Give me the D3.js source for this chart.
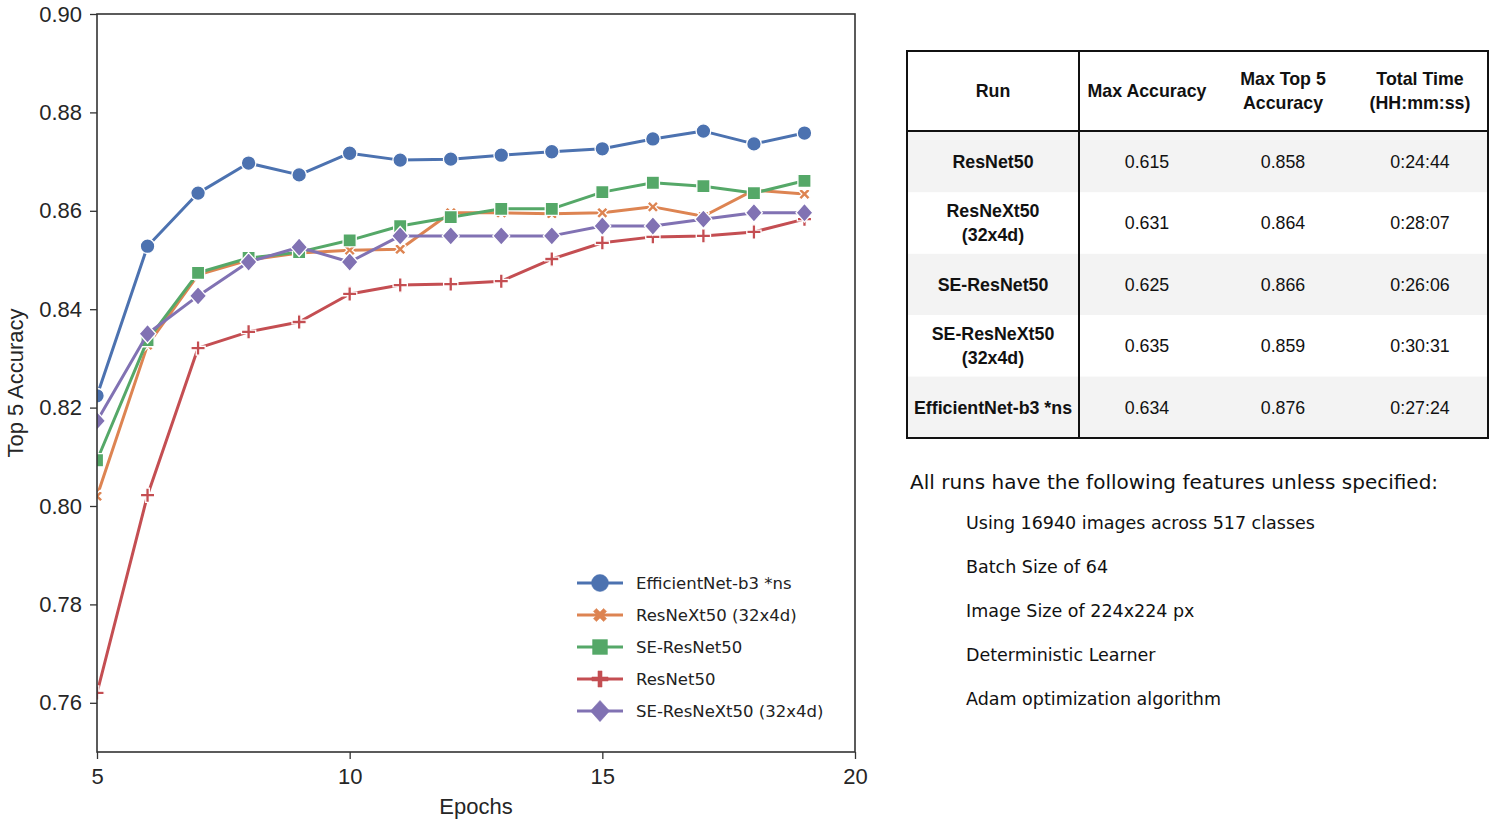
<!DOCTYPE html>
<html><head><meta charset="utf-8">
<script src="https://cdn.jsdelivr.net/npm/d3@7"></script>
<style>
body{margin:0;background:#fff;}
svg{display:block;}
</style></head>
<body>
<svg id="c" width="1500" height="834"></svg>
<script>
const epochs = [5,6,7,8,9,10,11,12,13,14,15,16,17,18,19];
const effnet   = [0.8224,0.8528,0.8636,0.8697,0.8673,0.8717,0.8703,0.8705,0.8713,0.8720,0.8726,0.8746,0.8762,0.8736,0.8758];
const resnext  = [0.8020,0.8327,0.8470,0.8500,0.8514,0.8520,0.8522,0.8596,0.8596,0.8594,0.8596,0.8608,0.8589,0.8642,0.8634];
const seresnet = [0.8093,0.8337,0.8474,0.8504,0.8516,0.8540,0.8569,0.8587,0.8604,0.8604,0.8638,0.8657,0.8650,0.8636,0.8661];
const resnet   = [0.7620,0.8022,0.8321,0.8354,0.8374,0.8431,0.8449,0.8451,0.8457,0.8502,0.8535,0.8547,0.8549,0.8557,0.8583];
const seresnext= [0.8173,0.8350,0.8427,0.8496,0.8526,0.8496,0.8549,0.8549,0.8549,0.8549,0.8569,0.8569,0.8583,0.8596,0.8596];
const seriesNames = ["EfficientNet-b3 *ns","ResNeXt50 (32x4d)","SE-ResNet50","ResNet50","SE-ResNeXt50 (32x4d)"];
const seriesValues = [effnet,resnext,seresnet,resnet,seresnext];
const seriesColors = ["#4c72b0","#dd8452","#55a868","#c44e52","#8172b3"];
const seriesMarkers = ["circle","x","square","plus","diamond"];
const xTicks = [5,10,15,20];
const yTicks = [0.76,0.78,0.80,0.82,0.84,0.86,0.88,0.90];

const tableHeader = [["Run"],["Max Accuracy"],["Max Top 5","Accuracy"],["Total Time","(HH:mm:ss)"]];
const tableRuns = [["ResNet50"],["ResNeXt50","(32x4d)"],["SE-ResNet50"],["SE-ResNeXt50","(32x4d)"],["EfficientNet-b3 *ns"]];
const tableMaxAcc = ["0.615","0.631","0.625","0.635","0.634"];
const tableMaxTop5 = ["0.858","0.864","0.866","0.859","0.876"];
const tableTime = ["0:24:44","0:28:07","0:26:06","0:30:31","0:27:24"];
const notesTitle = "All runs have the following features unless specified:";
const notes = ["Using 16940 images across 517 classes","Batch Size of 64","Image Size of 224x224 px","Deterministic Learner","Adam optimization algorithm"];

const svg = d3.select("#c");
const L=97,R=855,T=14,B=752;
const x = d3.scaleLinear().domain([5,20]).range([L,R]);
const y = d3.scaleLinear().domain([0.75,0.90]).range([B,T]);
const axisCol="#333";
const sans="Liberation Sans, Arial, sans-serif";
const dv="DejaVu Sans, Verdana, sans-serif";

svg.append("defs").append("clipPath").attr("id","pc").append("rect")
  .attr("x",L).attr("y",T).attr("width",R-L).attr("height",B-T);

function markerPath(type, s){
  if(type==="circle") return d3.symbol(d3.symbolCircle, Math.PI*s*s)();
  if(type==="square") return d3.symbol(d3.symbolSquare, (1.75*s)*(1.75*s))();
  if(type==="diamond"){ const h=s*1.25; return `M0,${-h}L${h*0.9},0L0,${h}L${-h*0.9},0Z`; }
  if(type==="plus"){ const a=s*0.95,w=s*0.24; return `M${-w},${-a}H${w}V${-w}H${a}V${w}H${w}V${a}H${-w}V${w}H${-a}V${-w}H${-w}Z`; }
  if(type==="x"){ const a=s*0.85,w=s*0.25;
    const pts=[[-w,-a],[w,-a],[w,-w],[a,-w],[a,w],[w,w],[w,a],[-w,a],[-w,w],[-a,w],[-a,-w],[-w,-w]];
    const c=Math.SQRT1_2;
    return "M"+pts.map(p=>[(p[0]-p[1])*c,(p[0]+p[1])*c].map(v=>v.toFixed(2)).join(",")).join("L")+"Z"; }
}

// axes
const gx = svg.append("g").attr("transform",`translate(0,${B})`)
  .call(d3.axisBottom(x).tickValues(xTicks).tickSize(7).tickPadding(6).tickFormat(d3.format("d")));
const gy = svg.append("g").attr("transform",`translate(${L},0)`)
  .call(d3.axisLeft(y).tickValues(yTicks).tickSize(7).tickPadding(8).tickFormat(d3.format(".2f")));
[gx,gy].forEach(g=>{
  g.select(".domain").remove();
  g.selectAll("line").attr("stroke",axisCol).attr("stroke-width",1.3);
  g.selectAll("text").attr("font-family",sans).attr("font-size",22).attr("fill","#262626");
});
gx.selectAll("text").attr("dy","0.85em");

// data
const plot = svg.append("g").attr("clip-path","url(#pc)");
const line = d3.line().x((d,i)=>x(epochs[i])).y(d=>y(d));
seriesValues.forEach((vals,k)=>{
  plot.append("path").datum(vals).attr("d",line)
    .attr("fill","none").attr("stroke",seriesColors[k]).attr("stroke-width",3).attr("stroke-linejoin","round");
  plot.selectAll(null).data(vals).enter().append("path")
    .attr("d",markerPath(seriesMarkers[k], seriesMarkers[k]==="circle"?7.3:7.5))
    .attr("transform",(d,i)=>`translate(${x(epochs[i])},${y(d)})`)
    .attr("fill",seriesColors[k]).attr("stroke","#fff").attr("stroke-width",1.3);
});

// frame
svg.append("rect").attr("x",L).attr("y",T).attr("width",R-L).attr("height",B-T)
  .attr("fill","none").attr("stroke",axisCol).attr("stroke-width",1.6);

// axis labels
svg.append("text").attr("x",(L+R)/2).attr("y",814).attr("text-anchor","middle")
  .attr("font-family",sans).attr("font-size",22).attr("fill","#262626").text("Epochs");
svg.append("text").attr("transform",`translate(23,${(T+B)/2}) rotate(-90)`).attr("text-anchor","middle")
  .attr("font-family",sans).attr("font-size",22).attr("fill","#262626").text("Top 5 Accuracy");

// legend
const lg = svg.append("g");
seriesNames.forEach((n,k)=>{
  const yy = 583 + k*32;
  lg.append("line").attr("x1",577).attr("x2",623).attr("y1",yy).attr("y2",yy)
    .attr("stroke",seriesColors[k]).attr("stroke-width",3);
  lg.append("path").attr("d",markerPath(seriesMarkers[k],8.5)).attr("transform",`translate(600,${yy})`)
    .attr("fill",seriesColors[k]).attr("stroke",seriesColors[k]).attr("stroke-width",0.5);
  lg.append("text").attr("x",636).attr("y",yy).attr("dy","0.35em")
    .attr("font-family",dv).attr("font-size",16.5).attr("fill","#222").text(n);
});

// table
const tx0=907, tx1=1488, ty0=51, hdrB=131, rowH=61.4;
const colSep=1079;
const colCenters=[993,1147,1283,1420];
const tg = svg.append("g");
tableRuns.forEach((r,i)=>{
  tg.append("rect").attr("x",tx0).attr("y",hdrB+i*rowH).attr("width",tx1-tx0).attr("height",rowH)
    .attr("fill", i%2===0?"#f3f3f3":"#ffffff");
});
function multi(xc,yc,lines,bold){
  const lh=24;
  lines.forEach((t,j)=>{
    tg.append("text").attr("x",xc).attr("y",yc+(j-(lines.length-1)/2)*lh).attr("dy","0.35em")
      .attr("text-anchor","middle").attr("font-family",sans).attr("font-size",17.8)
      .attr("font-weight",bold?"bold":"normal").attr("fill","#111").text(t);
  });
}
tableHeader.forEach((h,j)=>multi(colCenters[j],(ty0+hdrB)/2,h,true));
tableRuns.forEach((r,i)=>{
  const yc=hdrB+(i+0.5)*rowH;
  multi(colCenters[0],yc,r,true);
  multi(colCenters[1],yc,[tableMaxAcc[i]],false);
  multi(colCenters[2],yc,[tableMaxTop5[i]],false);
  multi(colCenters[3],yc,[tableTime[i]],false);
});
const tb = hdrB+5*rowH;
tg.append("rect").attr("x",tx0).attr("y",ty0).attr("width",tx1-tx0).attr("height",tb-ty0)
  .attr("fill","none").attr("stroke","#111").attr("stroke-width",2);
tg.append("line").attr("x1",tx0).attr("x2",tx1).attr("y1",hdrB).attr("y2",hdrB).attr("stroke","#111").attr("stroke-width",2);
tg.append("line").attr("x1",colSep).attr("x2",colSep).attr("y1",ty0).attr("y2",tb).attr("stroke","#111").attr("stroke-width",2);

// notes
svg.append("text").attr("x",910).attr("y",489).attr("font-family",dv)
  .attr("font-size",20).attr("fill","#111").text(notesTitle);
notes.forEach((t,i)=>{
  svg.append("text").attr("x",966).attr("y",529+i*44).attr("font-family",dv)
    .attr("font-size",17.5).attr("fill","#111").text(t);
});
</script>
</body></html>
